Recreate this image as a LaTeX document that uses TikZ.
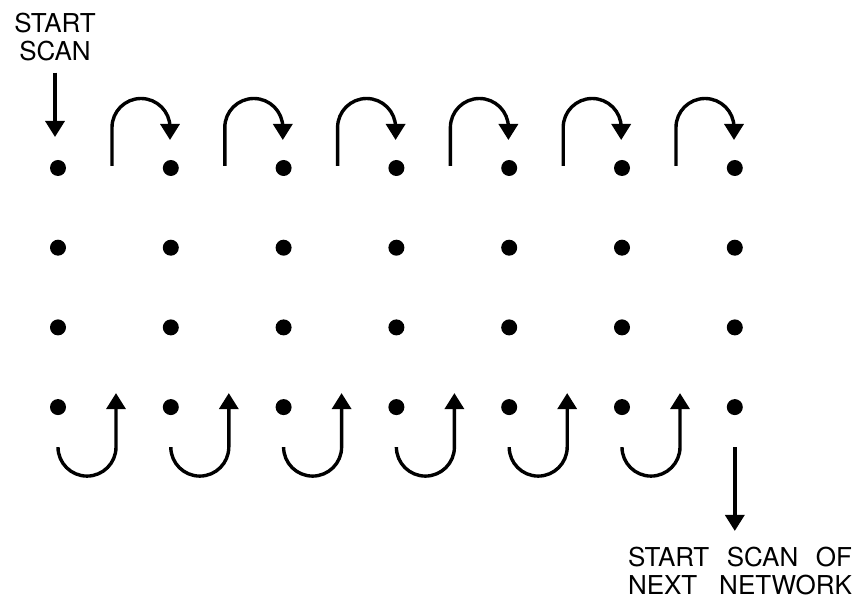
\documentclass[tikz,border=0pt]{standalone}
\usepackage{fontspec}
\setmainfont{TeX Gyre Heros}
\usetikzlibrary{arrows.meta, calc}

\begin{document}
\begin{tikzpicture}[x=0.5pt, y=-0.5pt, >={Triangle[width=9.5pt, length=8pt]}, line width=1.7pt,
  dot/.style={circle, fill=black, inner sep=0pt, minimum size=8pt},
  lbl/.style={font=\fontsize{13}{14}\selectfont, inner sep=0pt, align=center}]
  \useasboundingbox (0,0) rectangle (859,598);
  % puntos de la red
  \foreach \c in {0,...,6}
    \foreach \r in {0,...,3}
      \node[dot] (d-\c-\r) at (58+112.8*\c, 168+79.7*\r) {};
  % saltos arriba
  \foreach \c in {0,...,5}
    \draw[->] ($(d-\c-0)+(54,-2)$) -- ++(0,-38.5) arc (180:360:29) -- ++(0,12.5);
  % saltos abajo
  \foreach \c in {0,...,5}
    \draw[->] ($(d-\c-3)+(0,40)$) arc (180:0:29) -- ++(0,-54);
  % inicio
  \node[lbl] (start) at (55,37) {START\\SCAN};
  \coordinate (s-tip) at ($(start.south |- d-0-0)+(0,-31)$);
  \draw[->] ([yshift=-5pt]start.south) -- (s-tip);
  % siguiente red
  \node[lbl] (next) at (740,571.4) {\makebox[112pt][s]{START SCAN OF}\\\makebox[112pt][s]{NEXT NETWORK}};
  \coordinate (n-top) at ($(d-6-3)+(0,40)$);
  \draw[->, shorten >=7.4pt] (n-top) -- (n-top |- next.north);
\end{tikzpicture}
\end{document}
